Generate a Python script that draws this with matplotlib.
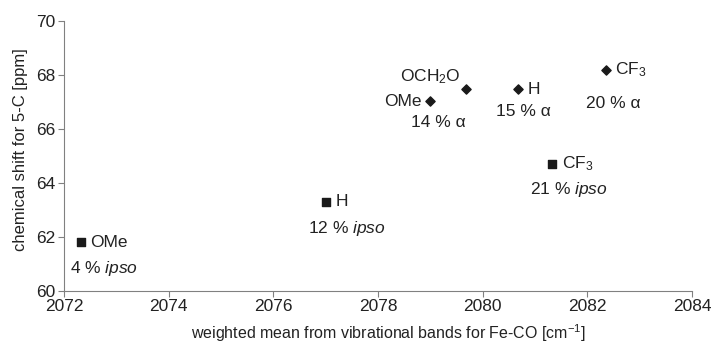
import matplotlib.pyplot as plt

plt.rcParams['font.family'] = ['Liberation Sans', 'DejaVu Sans']
plt.rcParams['mathtext.fontset'] = 'custom'
plt.rcParams['mathtext.rm'] = 'Liberation Sans'
plt.rcParams['mathtext.it'] = 'Liberation Sans:italic'

# ipso (squares)
ipso_x = [2072.32, 2077.0, 2081.33]
ipso_y = [61.8, 63.3, 64.7]
ipso_sub = ['OMe', 'H', 'CF$_3$']
ipso_pct = ['4 % $\\it{ipso}$', '12 % $\\it{ipso}$', '21 % $\\it{ipso}$']

# alpha (diamonds)
alpha_x = [2079.0, 2079.69, 2080.68, 2082.36]
alpha_y = [67.02, 67.48, 67.48, 68.19]
alpha_sub = ['OMe', 'OCH$_2$O', 'H', 'CF$_3$']
alpha_pct = ['14 % α', None, '15 % α', '20 % α']

fig = plt.figure(figsize=(7.13, 3.49), dpi=100)
ax = fig.add_axes([0.0898, 0.1662, 0.8808, 0.7736])

ax.scatter(ipso_x, ipso_y, marker='s', s=30, color='#1a1a1a', zorder=3)
ax.scatter(alpha_x, alpha_y, marker='D', s=22, color='#1a1a1a', zorder=3)

tc = '#222222'
fs = 12.5
# substituent labels (offsets in points)
for x, y, t in zip(ipso_x, ipso_y, ipso_sub):
    ax.annotate(t, (x, y), xytext=(7, 0), textcoords='offset points',
                ha='left', va='center', fontsize=fs, color=tc)
pct_off = [(17, -19), (15, -19.5), (12, -18)]
for x, y, t, (dx, dy) in zip(ipso_x, ipso_y, ipso_pct, pct_off):
    ax.annotate(t, (x, y), xytext=(dx, dy), textcoords='offset points',
                ha='center', va='center', fontsize=fs, color=tc)

asub_off = [(-6, 0, 'right'), (-4, 9, 'right'), (6.5, 0, 'left'), (6.5, 0, 'left')]
for x, y, t, (dx, dy, ha) in zip(alpha_x, alpha_y, alpha_sub, asub_off):
    ax.annotate(t, (x, y), xytext=(dx, dy), textcoords='offset points',
                ha=ha, va='center', fontsize=fs, color=tc)
apct_off = [(6, -15), None, (3.6, -16.5), (5, -24)]
for x, y, t, off in zip(alpha_x, alpha_y, alpha_pct, apct_off):
    if t is None:
        continue
    ax.annotate(t, (x, y), xytext=off, textcoords='offset points',
                ha='center', va='center', fontsize=fs, color=tc)

ax.set_xlim(2072, 2084)
ax.set_ylim(60, 70)
ax.set_xticks(range(2072, 2085, 2))
ax.set_yticks(range(60, 71, 2))
for s in ['top', 'right']:
    ax.spines[s].set_visible(False)
for s in ['left', 'bottom']:
    ax.spines[s].set_color('#808080')
ax.tick_params(direction='out', length=4, color='#808080', labelsize=12.5,
               labelcolor=tc, pad=2)
ax.set_xlabel('weighted mean from vibrational bands for Fe-CO [cm$^{-1}$]',
              fontsize=11.5, color=tc, labelpad=6, x=0.516)
ax.set_ylabel('chemical shift for 5-C [ppm]', fontsize=12, color=tc,
              labelpad=6, y=0.522)

fig.savefig('out.png', dpi=100)
